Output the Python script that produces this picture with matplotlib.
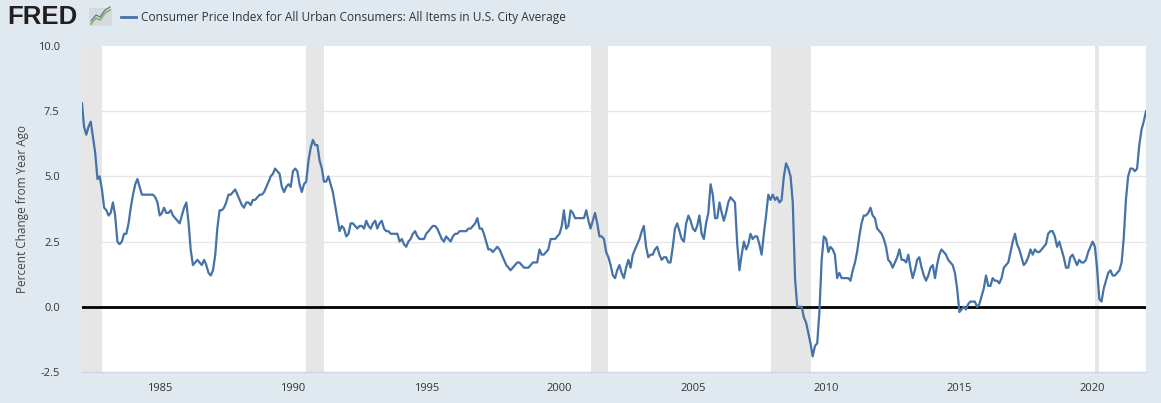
import numpy as np
import pandas as pd
import matplotlib
matplotlib.use("Agg")
import matplotlib.pyplot as plt
from matplotlib.lines import Line2D
from matplotlib.patches import Rectangle

# Monthly CPI, percent change from year ago, Feb 1982 .. Jan 2022
cpi_yoy = [
    # 1982 (Feb-Dec)
    7.8, 6.9, 6.6, 6.9, 7.1, 6.5, 5.9, 4.9, 5.0, 4.5, 3.8,
    # 1983
    3.7, 3.5, 3.6, 4.0, 3.5, 2.5, 2.4, 2.5, 2.8, 2.8, 3.2, 3.8,
    # 1984
    4.3, 4.7, 4.9, 4.6, 4.3, 4.3, 4.3, 4.3, 4.3, 4.3, 4.2, 4.0,
    # 1985
    3.5, 3.6, 3.8, 3.6, 3.6, 3.7, 3.5, 3.4, 3.3, 3.2, 3.5, 3.8,
    # 1986
    4.0, 3.2, 2.2, 1.6, 1.7, 1.8, 1.7, 1.6, 1.8, 1.6, 1.3, 1.2,
    # 1987
    1.4, 2.0, 3.0, 3.7, 3.7, 3.8, 4.0, 4.3, 4.3, 4.4, 4.5, 4.3,
    # 1988
    4.1, 3.9, 3.8, 4.0, 4.0, 3.9, 4.1, 4.1, 4.2, 4.3, 4.3, 4.4,
    # 1989
    4.6, 4.8, 5.0, 5.1, 5.3, 5.2, 5.1, 4.6, 4.4, 4.6, 4.7, 4.6,
    # 1990
    5.2, 5.3, 5.2, 4.7, 4.4, 4.7, 4.8, 5.6, 6.1, 6.4, 6.2, 6.2,
    # 1991
    5.6, 5.3, 4.8, 4.8, 5.0, 4.7, 4.4, 3.9, 3.4, 2.9, 3.1, 3.0,
    # 1992
    2.7, 2.8, 3.2, 3.2, 3.1, 3.0, 3.1, 3.1, 3.0, 3.3, 3.1, 3.0,
    # 1993
    3.2, 3.3, 3.0, 3.2, 3.3, 3.0, 2.9, 2.9, 2.8, 2.8, 2.8, 2.8,
    # 1994
    2.5, 2.6, 2.4, 2.3, 2.5, 2.6, 2.8, 2.9, 2.7, 2.6, 2.6, 2.6,
    # 1995
    2.8, 2.9, 3.0, 3.1, 3.1, 3.0, 2.8, 2.6, 2.5, 2.7, 2.6, 2.5,
    # 1996
    2.7, 2.8, 2.8, 2.9, 2.9, 2.9, 2.9, 3.0, 3.0, 3.1, 3.2, 3.4,
    # 1997
    3.0, 3.0, 2.8, 2.5, 2.2, 2.2, 2.1, 2.2, 2.3, 2.2, 2.0, 1.8,
    # 1998
    1.6, 1.5, 1.4, 1.5, 1.6, 1.7, 1.7, 1.6, 1.5, 1.5, 1.5, 1.6,
    # 1999
    1.7, 1.7, 1.7, 2.2, 2.0, 2.0, 2.1, 2.2, 2.6, 2.6, 2.6, 2.7,
    # 2000
    2.8, 3.1, 3.7, 3.0, 3.1, 3.7, 3.6, 3.4, 3.4, 3.4, 3.4, 3.4,
    # 2001
    3.7, 3.3, 3.0, 3.3, 3.6, 3.2, 2.7, 2.7, 2.6, 2.1, 1.9, 1.6,
    # 2002
    1.2, 1.1, 1.4, 1.6, 1.3, 1.1, 1.5, 1.8, 1.5, 2.0, 2.2, 2.4,
    # 2003
    2.6, 2.9, 3.1, 2.3, 1.9, 2.0, 2.0, 2.2, 2.3, 2.0, 1.8, 1.9,
    # 2004
    1.9, 1.7, 1.7, 2.3, 3.0, 3.2, 2.9, 2.6, 2.5, 3.2, 3.5, 3.3,
    # 2005
    3.0, 2.9, 3.1, 3.5, 2.8, 2.6, 3.2, 3.6, 4.7, 4.3, 3.4, 3.4,
    # 2006
    4.0, 3.6, 3.3, 3.6, 4.0, 4.2, 4.1, 4.0, 2.4, 1.4, 2.0, 2.5,
    # 2007
    2.2, 2.4, 2.8, 2.6, 2.7, 2.7, 2.4, 2.0, 2.8, 3.5, 4.3, 4.1,
    # 2008
    4.3, 4.1, 4.2, 4.0, 4.1, 5.0, 5.5, 5.3, 5.0, 4.0, 1.1, 0.0,
    # 2009
    0.0, 0.0, -0.4, -0.6, -1.0, -1.4, -1.9, -1.5, -1.4, -0.2, 1.8, 2.7,
    # 2010
    2.6, 2.1, 2.3, 2.2, 2.0, 1.1, 1.3, 1.1, 1.1, 1.1, 1.1, 1.0,
    # 2011
    1.4, 1.7, 2.1, 2.7, 3.2, 3.5, 3.5, 3.6, 3.8, 3.5, 3.4, 3.0,
    # 2012
    2.9, 2.8, 2.6, 2.3, 1.8, 1.7, 1.5, 1.7, 1.9, 2.2, 1.8, 1.8,
    # 2013
    1.7, 2.0, 1.5, 1.1, 1.4, 1.8, 1.9, 1.5, 1.2, 1.0, 1.2, 1.5,
    # 2014
    1.6, 1.1, 1.6, 2.0, 2.2, 2.1, 2.0, 1.8, 1.7, 1.6, 1.3, 0.7,
    # 2015
    -0.2, -0.1, -0.0, -0.1, 0.1, 0.2, 0.2, 0.2, 0.0, 0.1, 0.4, 0.7,
    # 2016
    1.2, 0.8, 0.8, 1.1, 1.0, 1.0, 0.9, 1.1, 1.5, 1.6, 1.7, 2.1,
    # 2017
    2.5, 2.8, 2.4, 2.2, 1.9, 1.6, 1.7, 1.9, 2.2, 2.0, 2.2, 2.1,
    # 2018
    2.1, 2.2, 2.3, 2.4, 2.8, 2.9, 2.9, 2.7, 2.3, 2.5, 2.2, 1.9,
    # 2019
    1.5, 1.5, 1.9, 2.0, 1.8, 1.6, 1.8, 1.7, 1.7, 1.8, 2.1, 2.3,
    # 2020
    2.5, 2.3, 1.5, 0.3, 0.2, 0.7, 1.0, 1.3, 1.4, 1.2, 1.2, 1.3,
    # 2021
    1.4, 1.7, 2.6, 4.1, 5.0, 5.3, 5.3, 5.2, 5.3, 6.2, 6.8, 7.1,
    # 2022 (Jan)
    7.5,
]
dates = pd.date_range("1982-02-01", periods=len(cpi_yoy), freq="MS")

recession_starts = ["1981-07-01", "1990-07-01", "2001-03-01", "2007-12-01", "2020-02-01"]
recession_ends = ["1982-11-01", "1991-03-01", "2001-11-01", "2009-06-01", "2020-04-01"]

y_ticks = [-2.5, 0.0, 2.5, 5.0, 7.5, 10.0]
x_tick_years = [1985, 1990, 1995, 2000, 2005, 2010, 2015, 2020]

title = "Consumer Price Index for All Urban Consumers: All Items in U.S. City Average"
y_label = "Percent Change from Year Ago"

bg = "#e1e9f0"
line_color = "#4572a7"
text_color = "#333333"

plt.rcParams['font.family'] = ['Open Sans', 'DejaVu Sans']

fig = plt.figure(figsize=(11.61, 4.03), dpi=100, facecolor=bg)
W, H = 1161, 403
ax = fig.add_axes([82 / W, (H - 372) / H, (1146 - 82) / W, (372 - 46) / H])
ax.set_facecolor("white")

for s, e in zip(recession_starts, recession_ends):
    ax.axvspan(pd.Timestamp(s), pd.Timestamp(e), color="#e6e6e6", lw=0, zorder=1)

for yv in y_ticks[1:-1]:
    if yv != 0:
        ax.axhline(yv, color="#e6e6e6", lw=1, zorder=0.5)
ax.axhline(0, color="black", lw=2, zorder=2)

ax.plot(dates, cpi_yoy, color=line_color, lw=1.6, zorder=3, solid_joinstyle="round")

ax.set_xlim(dates[0], dates[-1])
ax.set_ylim(-2.5, 10.0)
ax.set_yticks(y_ticks)
ax.set_yticklabels([f"{v:.1f}" for v in y_ticks])
ax.set_xticks([pd.Timestamp(f"{y}-01-01") for y in x_tick_years])
ax.set_xticklabels([str(y) for y in x_tick_years])
ax.tick_params(axis="both", length=0, labelsize=8, labelcolor=text_color)
ax.tick_params(axis="y", pad=16)
ax.tick_params(axis="x", pad=8)

for side in ["top", "right", "left"]:
    ax.spines[side].set_visible(False)
ax.spines["bottom"].set_color("#ccd6eb")
ax.spines["bottom"].set_linewidth(1)

ax.set_ylabel(y_label, fontsize=8.5, color="#444444", labelpad=6)

# header: FRED logo, icon and legend
fig.text(7 / W, 1 - 17 / H, "FRED", fontsize=18.5, fontweight="bold", color="#231f20",
         va="center", ha="left", family=["Liberation Sans", "DejaVu Sans"])
fig.add_artist(Rectangle((89 / W, 1 - 26 / H), 23 / W, 18 / H, transform=fig.transFigure,
                         facecolor="#d5dade", edgecolor="none"))
icon_x = np.array([91, 96, 100, 105, 110]) / W
icon_y = 1 - np.array([24, 18, 20, 13, 10]) / H
fig.add_artist(Line2D(icon_x, icon_y, color="#8fb04a", lw=1.2))
fig.add_artist(Line2D(icon_x, icon_y + 3 / H, color="#4572a7", lw=0.8))
fig.add_artist(Line2D([121 / W, 136 / W], [1 - 17 / H, 1 - 17 / H], color=line_color, lw=2))
fig.text(141 / W, 1 - 17 / H, title, fontsize=8.6, color=text_color, va="center", ha="left")

fig.savefig("out.png", dpi=100, facecolor=bg)
